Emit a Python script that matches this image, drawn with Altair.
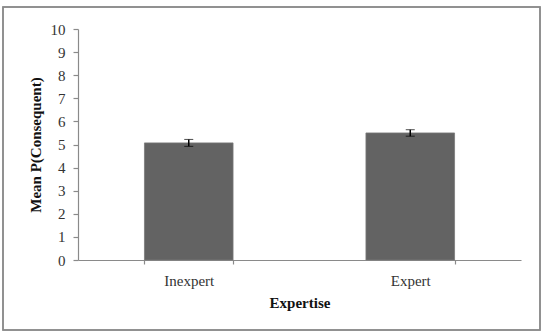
import altair as alt
import pandas as pd

categories = ["Inexpert", "Expert"]
means = [5.07, 5.50]
errors = [0.15, 0.14]

df = pd.DataFrame({"Expertise": categories, "mean": means, "err": errors})
df["lo"] = df["mean"] - df["err"]
df["hi"] = df["mean"] + df["err"]

W, H = 443, 231
FONT = "Liberation Serif"

xscale = alt.Scale(domain=categories, paddingInner=0.6, paddingOuter=0.3)
yscale = alt.Scale(domain=[0, 10])
xaxis = alt.Axis(title="Expertise", labelAngle=0, tickBand="extent",
                 tickSize=4, labelPadding=9, titlePadding=7)
yaxis = alt.Axis(title="Mean P(Consequent)", values=list(range(0, 11)),
                 grid=False, tickSize=5, labelPadding=8, titlePadding=7,
                 labelOverlap=False)

bars = alt.Chart(df).mark_bar(color="#636363", stroke="#7a7a7a", strokeWidth=0.8).encode(
    x=alt.X("Expertise:N", sort=categories, scale=xscale, axis=xaxis, title="Expertise"),
    y=alt.Y("mean:Q", scale=yscale, axis=yaxis, title="Mean P(Consequent)"),
)

err = alt.Chart(df).mark_errorbar(ticks=alt.MarkConfig(size=9, color="black", strokeWidth=1.5),
                                  rule=alt.MarkConfig(color="black", strokeWidth=1.5)).encode(
    x=alt.X("Expertise:N", sort=categories, scale=xscale, axis=xaxis, title="Expertise"),
    y=alt.Y("lo:Q", scale=yscale, axis=yaxis, title="Mean P(Consequent)"),
    y2="hi:Q",
)

frame = alt.Chart(df).mark_rect(fill=None, stroke="#8a8a8a", strokeWidth=1.5).encode(
    x=alt.value(-75), x2=alt.value(462), y=alt.value(-22), y2=alt.value(301)
)

chart = alt.layer(frame, bars, err).properties(
    width=W, height=H,
    autosize=alt.AutoSizeParams(type="none"),
    padding={"left": 78, "top": 29, "right": 26, "bottom": 76},
    background="white",
).configure_view(stroke=None).configure_axis(
    labelFont=FONT, titleFont=FONT, labelFontSize=15, titleFontSize=15,
    labelColor="#333", titleColor="#111", titleFontWeight="bold",
    domainColor="#8a8a8a", tickColor="#8a8a8a", domainWidth=1.2, tickWidth=1.2,
)

chart.save("out.html", embed_options={"renderer": "svg", "actions": False})
